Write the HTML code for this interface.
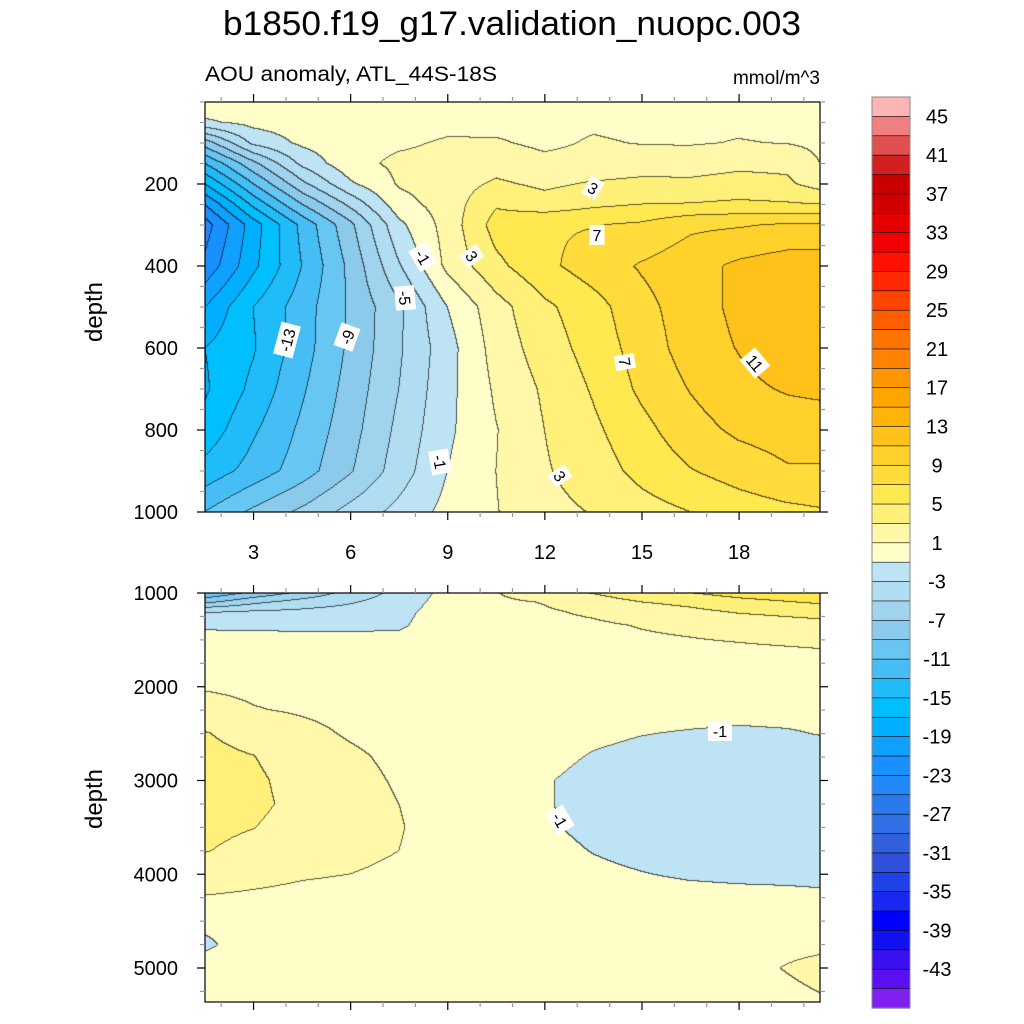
<!DOCTYPE html>
<html><head><meta charset="utf-8">
<style>
html,body{margin:0;padding:0;background:#fff;}
#root{position:relative;width:1024px;height:1024px;overflow:hidden;font-family:"Liberation Sans",sans-serif;}
canvas{position:absolute;}
svg{position:absolute;left:0;top:0;}
</style></head>
<body>
<div id="root">
<canvas id="cTop" width="615" height="410" style="left:205px;top:102px"></canvas>
<canvas id="cBot" width="615" height="409" style="left:205px;top:593px"></canvas>
<svg id="svg" width="1024" height="1024" xmlns="http://www.w3.org/2000/svg">
<text x="512" y="35" font-size="34" text-anchor="middle" textLength="578" lengthAdjust="spacingAndGlyphs">b1850.f19_g17.validation_nuopc.003</text>
<text x="205" y="81" font-size="21" textLength="292" lengthAdjust="spacingAndGlyphs">AOU anomaly, ATL_44S-18S</text>
<text x="820" y="84" font-size="19" text-anchor="end">mmol/m^3</text>
<text transform="translate(102,312) rotate(-90)" font-size="24" text-anchor="middle">depth</text>
<text transform="translate(102,799) rotate(-90)" font-size="24" text-anchor="middle">depth</text>
<g id="axes"></g>
<g id="cbar"></g>
<g id="clabels"></g>
</svg>
</div>
<script>
// ---- data ----
const xCoords = [1.5,3,4.5,6,7.5,9,10.5,12,13.5,15,16.5,18,19.5,20.5];
const topDepths = [0,50,100,150,200,250,300,400,500,600,700,800,900,1000];
const topValues = [
 [0.3,0,0,0,0,0,0,0,0,0,0,0.3,0.3,0.3],
 [-1.3,-0.4,0,0.1,0.3,0.5,0.4,0.4,0.7,0.5,0.9,0.6,0.5,0.4],
 [-8,-2.5,-0.6,0.3,0.7,1.2,1.2,0.6,1.2,0.9,0.8,1.1,0.9,0.6],
 [-13,-7.5,-2.5,0.4,1.4,1.6,2.2,1.5,1.6,2.0,2.3,2.6,2.6,1.0],
 [-17,-11,-5.5,-1.3,1.2,2.0,3.3,2.6,3.2,3.5,3.3,3.6,3.3,2.2],
 [-21,-14.5,-9,-4.5,0.2,1.9,4.8,3.8,4.6,5.0,5.1,5.4,5.2,5.0],
 [-24,-18,-12.5,-7.5,-1.5,1.8,5.8,6.8,6.9,7.3,8.6,8.8,9.2,9.2],
 [-22.5,-17.5,-13,-8.5,-3.2,1.5,4.5,6.5,8,9.2,10.2,11.4,12.1,12.2],
 [-19,-15,-12,-8.7,-5.4,-1,2.2,4.6,6.2,8.4,10,11.5,12.3,12.6],
 [-17,-15.2,-11.9,-8.6,-5.3,-1.8,1.8,4.0,5.8,7.9,9.9,11.1,12.2,12.4],
 [-17.3,-14.5,-11.3,-8.2,-5.0,-1.6,1.3,3.3,5.2,7.4,9.1,10.5,11.2,11.4],
 [-16.3,-13.3,-10.6,-7.8,-4.5,-1.4,0.9,3.0,4.6,6.4,8.2,9.4,9.9,10.0],
 [-14.3,-12.2,-10,-7.2,-4,-1,1.0,2.8,4.0,5.6,6.9,7.9,8.8,8.8],
 [-11,-8.6,-6.6,-4.3,-2.4,-0.4,0.9,2.4,3.1,4.2,5.0,5.9,6.5,6.8]
];
const botDepths = [1000,1100,1200,1350,1600,2000,2250,2500,2750,3000,3250,3500,3750,4000,4250,4500,4750,5000,5375];
const botValues = [
 [-11,-8.6,-6.6,-4.3,-2.4,-0.4,0.9,2.4,3.1,4.2,5.0,5.9,6.5,6.8],
 [-7.5,-5.5,-4.2,-3.2,-2.0,-0.2,0.6,1.1,2.1,3.0,3.5,4.3,4.9,5.3],
 [-3.2,-2.9,-2.6,-2.2,-1.6,0,0.4,0.8,1.3,2.0,2.6,3.2,3.5,3.6],
 [-1.3,-1.4,-1.4,-1.4,-1.3,0.2,0.3,0.5,0.7,1.1,1.4,1.8,2.2,2.5],
 [0.3,0.3,0.2,0.1,0.1,0.2,0.2,0.3,0.4,0.5,0.6,0.7,0.85,0.98],
 [0.8,0.6,0.4,0.3,0.2,0.1,0,0,0,0,-0.1,-0.2,-0.3,-0.3],
 [1.8,1.1,0.8,0.5,0.3,0.1,0,-0.1,-0.2,-0.4,-0.5,-0.6,-0.6,-0.6],
 [3.1,2.3,1.5,0.8,0.4,0.1,-0.1,-0.3,-0.7,-0.95,-1.1,-1.2,-1.1,-0.95],
 [3.5,3.05,2.1,1.3,0.6,0.2,-0.2,-0.6,-1.1,-1.4,-1.5,-1.5,-1.5,-1.5],
 [3.7,3.3,2.4,1.6,0.8,0.3,-0.3,-0.9,-1.4,-1.6,-1.7,-1.7,-1.7,-1.7],
 [3.7,3.4,2.5,1.8,1.0,0.3,-0.3,-0.9,-1.4,-1.7,-1.7,-1.7,-1.7,-1.7],
 [3.5,3.05,2.2,1.7,1.1,0.3,-0.3,-0.85,-1.3,-1.6,-1.7,-1.7,-1.7,-1.7],
 [3.1,2.4,1.8,1.4,1.0,0.3,-0.2,-0.6,-1.05,-1.4,-1.6,-1.6,-1.6,-1.6],
 [2.0,1.6,1.2,1.0,0.7,0.2,-0.1,-0.4,-0.7,-0.95,-1.2,-1.3,-1.3,-1.3],
 [0.9,0.7,0.5,0.4,0.3,0.1,0,-0.2,-0.3,-0.4,-0.5,-0.6,-0.7,-0.8],
 [-0.3,0.3,0.2,0.2,0.2,0.2,0.2,0.2,0.2,0.2,0.2,0.2,0.2,0.2],
 [-1.5,0.3,0.2,0.2,0.2,0.2,0.2,0.2,0.2,0.2,0.2,0.3,0.5,0.6],
 [0.2,0.2,0.2,0.2,0.2,0.2,0.2,0.2,0.2,0.2,0.3,0.4,1.1,1.5],
 [0.2,0.2,0.2,0.2,0.2,0.2,0.2,0.2,0.2,0.2,0.2,0.3,0.5,0.8]
];
const levelColors = ["#8020F0","#5A10F0","#3A10F0","#1010F0","#0000FF","#1828F0","#2040E8","#2E50DC","#3060DC","#3070E6","#2A7AEE","#2088F8","#1890FF","#10A0FF","#00AFFF","#00BFFF","#20BCF9","#46BEF5","#68C6F2","#8CCAEB","#9FD3EE","#B0DDF2","#BEE3F4","#FFFDC8","#FFF8A8","#FFF07A","#FFE850","#FFDC3C","#FFD12A","#FFC21A","#FFB40A","#FFA500","#FF9600","#FF8200","#FF7300","#FF5E00","#FF4400","#FF2800","#FF1000","#F00000","#E40000","#D00000","#C80000","#D22020","#E05050","#F08080","#FDB4B4"];
const cbarLabels = [45,41,37,33,29,25,21,17,13,9,5,1,-3,-7,-11,-15,-19,-23,-27,-31,-35,-39,-43];
const xTicks = [3,6,9,12,15,18];
const topYTicks = [200,400,600,800,1000];
const botYTicks = [1000,2000,3000,4000,5000];

// ---- axes functions ----
const X0=205, X1=820, XMIN=1.5, XMAX=20.5;
function xPx(x){return X0+(x-XMIN)/(XMAX-XMIN)*(X1-X0);}
const T0=102,T1=512, TD0=0, TD1=1000;
function yTop(d){return T0+(d-TD0)/(TD1-TD0)*(T1-T0);}
const B0=593,B1=1002, BD0=1000, BD1=1000+(B1-B0)/0.09375;
function yBot(d){return B0+(d-BD0)/(BD1-BD0)*(B1-B0);}

function hexRGB(h){return [parseInt(h.substr(1,2),16),parseInt(h.substr(3,2),16),parseInt(h.substr(5,2),16)];}
const rgbs = levelColors.map(hexRGB);
function levelOf(v){ if(v<-45) return 0; if(v>=45) return 46; return Math.min(45,Math.floor((v+45)/2)+1); }
function findIdx(arr,v){ let i=0; while(i<arr.length-2 && v>arr[i+1]) i++; return i; }
function interp(xs,ds,vals,x,d){
  const i=findIdx(xs,x), j=findIdx(ds,d);
  let tx=(x-xs[i])/(xs[i+1]-xs[i]); tx=Math.max(0,Math.min(1,tx));
  let ty=(d-ds[j])/(ds[j+1]-ds[j]); ty=Math.max(0,Math.min(1,ty));
  const a=vals[j][i], b=vals[j][i+1], c=vals[j+1][i], e=vals[j+1][i+1];
  return a*(1-tx)*(1-ty)+b*tx*(1-ty)+c*(1-tx)*ty+e*tx*ty;
}
function renderPanel(id,ds,vals,d0,d1){
  const cv=document.getElementById(id), ctx=cv.getContext('2d');
  const W=cv.width,H=cv.height, img=ctx.createImageData(W,H), L=new Int16Array(W*H);
  for(let py=0;py<H;py++){ const d=d0+(py+0.5)/H*(d1-d0);
    for(let px=0;px<W;px++){ const x=XMIN+(px+0.5)/W*(XMAX-XMIN);
      L[py*W+px]=levelOf(interp(xCoords,ds,vals,x,d)); } }
  for(let py=0;py<H;py++) for(let px=0;px<W;px++){
    const k=py*W+px, l=L[k]; let c=rgbs[l];
    let edge=(px<W-1&&L[k+1]!==l)||(py<H-1&&L[k+W]!==l);
    const o=k*4;
    if(edge){img.data[o]=c[0]*0.35;img.data[o+1]=c[1]*0.35;img.data[o+2]=c[2]*0.35;}
    else{img.data[o]=c[0];img.data[o+1]=c[1];img.data[o+2]=c[2];}
    img.data[o+3]=255; }
  ctx.putImageData(img,0,0);
}
renderPanel('cTop',topDepths,topValues,TD0,TD1);
renderPanel('cBot',botDepths,botValues,BD0,BD1);

const NS="http://www.w3.org/2000/svg";
function mk(tag,attrs,parent,txt){const e=document.createElementNS(NS,tag);for(const k in attrs)e.setAttribute(k,attrs[k]);if(txt!==undefined)e.textContent=txt;parent.appendChild(e);return e;}
const axes=document.getElementById('axes');
function frame(y0,y1,name){
  const r=mk('rect',{x:X0,y:y0,width:X1-X0,height:y1-y0,fill:'none',stroke:'#000','stroke-width':1.2},axes);
  
  
  for(let x=2;x<=20;x++){ const major=(x%3===0), len=major?8:5, px=xPx(x);
    const t1=mk('line',{x1:px,x2:px,y1:y0,y2:y0-len,stroke:major?'#000':'#999','stroke-width':1.2},axes);
    
    
    const t2=mk('line',{x1:px,x2:px,y1:y1,y2:y1+len,stroke:major?'#000':'#999','stroke-width':1.2},axes);
    
    
  }
}
frame(T0,T1,'upper-plot-frame');
frame(B0,B1,'lower-plot-frame');
xTicks.forEach(v=>{ const t=mk('text',{x:xPx(v),y:559,'font-size':20,'text-anchor':'middle'},axes,String(v));
  
   });
function yTicks(fn,dmin,dmax,step,minor,labels,name){
  for(let d=Math.ceil(dmin/minor)*minor; d<=dmax; d+=minor){ const py=fn(d); if(py<fn(dmin)-0.5) continue;
    const major=labels.indexOf(d)>=0, len=major?8:5;
    const a=mk('line',{x1:X0,x2:X0-len,y1:py,y2:py,stroke:major?'#000':'#999','stroke-width':1.2},axes);
    
    
    const b=mk('line',{x1:X1,x2:X1+len,y1:py,y2:py,stroke:major?'#000':'#999','stroke-width':1.2},axes);
    
    
  }
  labels.forEach(v=>{ const t=mk('text',{x:178,y:fn(v)+7,'font-size':20,'text-anchor':'end'},axes,String(v));
    
     });
}
yTicks(yTop,TD0,TD1,50,50,topYTicks,'y-tick-label-top');
yTicks(yBot,BD0,BD1,250,250,botYTicks,'y-tick-label-bottom');

// colorbar
const cb=document.getElementById('cbar');
const CB0=97, CB1=1008, CBX=872, CBW=38, N=levelColors.length, bh=(CB1-CB0)/N;
for(let i=0;i<N;i++){ const lvl=N-1-i;
  const r=mk('rect',{x:CBX,y:CB0+i*bh,width:CBW,height:bh+0.3,fill:levelColors[lvl],stroke:'#000','stroke-width':0.6},cb);
  
   }
mk('rect',{x:CBX,y:CB0,width:CBW,height:CB1-CB0,fill:'none',stroke:'#888','stroke-width':1},cb);
cbarLabels.forEach(v=>{ const k=(45-v)/2+1; const y=CB0+k*bh;
  const t=mk('text',{x:937,y:y+7,'font-size':20,'text-anchor':'middle'},cb,String(v));
  
   });

// contour labels
const cl=document.getElementById('clabels');
const clabs=[["-1",423,257,60],["3",472,256,55],["-5",405,298,85],["-13",287,340,-75],["-9",347,337,-70],["3",593,188,30],["7",597,235,0],["7",625,362,80],["11",755,363,50],["-1",440,462,80],["3",560,476,55],["-1",720,731,0],["-1",560,820,60]];
clabs.forEach(c=>{ const g=mk('g',{transform:`translate(${c[1]},${c[2]}) rotate(${c[3]})`},cl);
  
  
  const w=c[0].length*9+6;
  mk('rect',{x:-w/2,y:-10,width:w,height:20,fill:'#fff'},g);
  mk('text',{x:0,y:6,'font-size':16,'text-anchor':'middle'},g,c[0]); });
</script>
</body></html>
